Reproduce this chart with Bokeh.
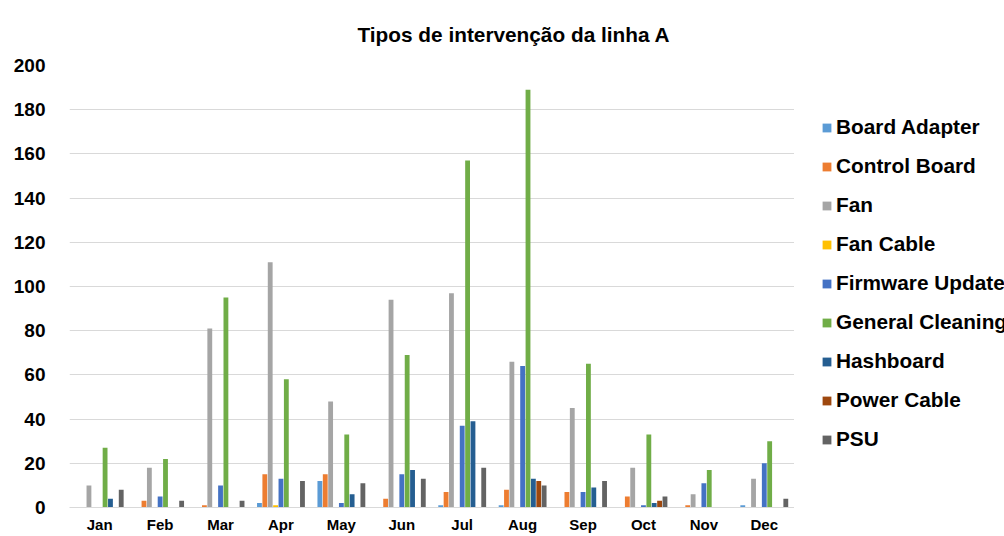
from bokeh.plotting import figure
from bokeh.layouts import row
from bokeh.models import ColumnDataSource, FactorRange, Range1d, Legend, LegendItem, SingleIntervalTicker
from bokeh.transform import dodge
from bokeh.embed import file_html
from bokeh.resources import INLINE

months = ["Jan", "Feb", "Mar", "Apr", "May", "Jun", "Jul", "Aug", "Sep", "Oct", "Nov", "Dec"]
series_names = ["Board Adapter", "Control Board", "Fan", "Fan Cable", "Firmware Update",
                "General Cleaning", "Hashboard", "Power Cable", "PSU"]
colors = ["#5B9BD5", "#ED7D31", "#A5A5A5", "#FFC000", "#4472C4",
          "#70AD47", "#255E91", "#9E480E", "#636363"]

board_adapter = [0, 0, 0, 2, 12, 0, 1, 1, 0, 0, 0, 1]
control_board = [0, 3, 1, 15, 15, 4, 7, 8, 7, 5, 1, 0]
fan = [10, 18, 81, 111, 48, 94, 97, 66, 45, 18, 6, 13]
fan_cable = [0, 0, 0, 1, 0, 0, 0, 0, 0, 0, 0, 0]
firmware_update = [0, 5, 10, 13, 2, 15, 37, 64, 7, 1, 11, 20]
general_cleaning = [27, 22, 95, 58, 33, 69, 157, 189, 65, 33, 17, 30]
hashboard = [4, 0, 0, 0, 6, 17, 39, 13, 9, 2, 0, 0]
power_cable = [0, 0, 0, 0, 0, 0, 0, 12, 0, 3, 0, 0]
psu = [8, 3, 3, 12, 11, 13, 18, 10, 12, 5, 0, 4]

series_values = [board_adapter, control_board, fan, fan_cable, firmware_update,
                 general_cleaning, hashboard, power_cable, psu]

keys = ["s%d" % i for i in range(len(series_names))]
data = {"month": months}
for k, v in zip(keys, series_values):
    data[k] = v
source = ColumnDataSource(data)

FONT = "Liberation Sans"
H = 536
TOP = 65
BOTTOM = 29

p = figure(x_range=FactorRange(*months, range_padding=0), y_range=Range1d(0, 200),
           width=794, height=H, output_backend="svg", toolbar_location=None,
           min_border_left=69, min_border_right=0, min_border_top=TOP, min_border_bottom=BOTTOM)
p.outline_line_color = None
p.background_fill_color = "white"
p.border_fill_color = "white"

slot = 0.089
for i, (k, c) in enumerate(zip(keys, colors)):
    p.vbar(x=dodge("month", (i - 4) * slot, range=p.x_range), top=k, width=0.08,
           source=source, fill_color=c, line_color=None)

p.title.text = "Tipos de intervenção da linha A"
p.title.text_font = FONT
p.title.text_font_size = "20.8px"
p.title.text_font_style = "bold"
p.title.text_color = "black"
p.title.align = "left"
p.title.offset = 288
p.title.standoff = 40

p.yaxis.ticker = SingleIntervalTicker(interval=20)
p.yaxis.axis_line_color = None
p.yaxis.major_tick_line_color = None
p.yaxis.minor_tick_line_color = None
p.yaxis.major_tick_out = 0
p.yaxis.major_tick_in = 0
p.yaxis.major_label_standoff = 20
p.yaxis.major_label_text_font = FONT
p.yaxis.major_label_text_font_size = "19px"
p.yaxis.major_label_text_font_style = "bold"
p.yaxis.major_label_text_color = "black"

p.xaxis.axis_line_color = "#D9D9D9"
p.xaxis.axis_line_width = 1
p.xaxis.major_tick_line_color = None
p.xaxis.minor_tick_line_color = None
p.xaxis.major_tick_out = 0
p.xaxis.major_tick_in = 0
p.xaxis.major_label_standoff = 8
p.xaxis.major_label_text_font = FONT
p.xaxis.major_label_text_font_size = "15px"
p.xaxis.major_label_text_font_style = "bold"
p.xaxis.major_label_text_color = "black"

p.xgrid.grid_line_color = None
p.ygrid.grid_line_color = "#D9D9D9"
p.ygrid.grid_line_width = 1

# Legend panel (separate figure so the legend can reach the right edge)
lp = figure(width=210, height=H, output_backend="svg", toolbar_location=None,
            x_range=Range1d(0, 1), y_range=Range1d(0, 1),
            x_axis_type=None, y_axis_type=None,
            min_border_left=27, min_border_right=0, min_border_top=TOP, min_border_bottom=BOTTOM)
lp.outline_line_color = None
lp.xgrid.visible = False
lp.ygrid.visible = False
lp.background_fill_color = "white"
lp.border_fill_color = "white"

items = []
for name, c in zip(series_names, colors):
    proxy = lp.vbar(x=[0], top=[0], width=0, fill_color=c, line_color=None)
    items.append(LegendItem(label=name, renderers=[proxy]))

legend = Legend(items=items, location=(0, 56), padding=0, margin=0,
                border_line_color=None, background_fill_alpha=0,
                label_text_font=FONT, label_text_font_size="20.8px",
                label_text_font_style="bold", label_text_color="black",
                glyph_width=11, glyph_height=11, label_height=24, spacing=15,
                label_standoff=4)
lp.add_layout(legend, "center")

layout = row(p, lp, spacing=0)
open("out.html", "w").write(file_html(layout, INLINE))
